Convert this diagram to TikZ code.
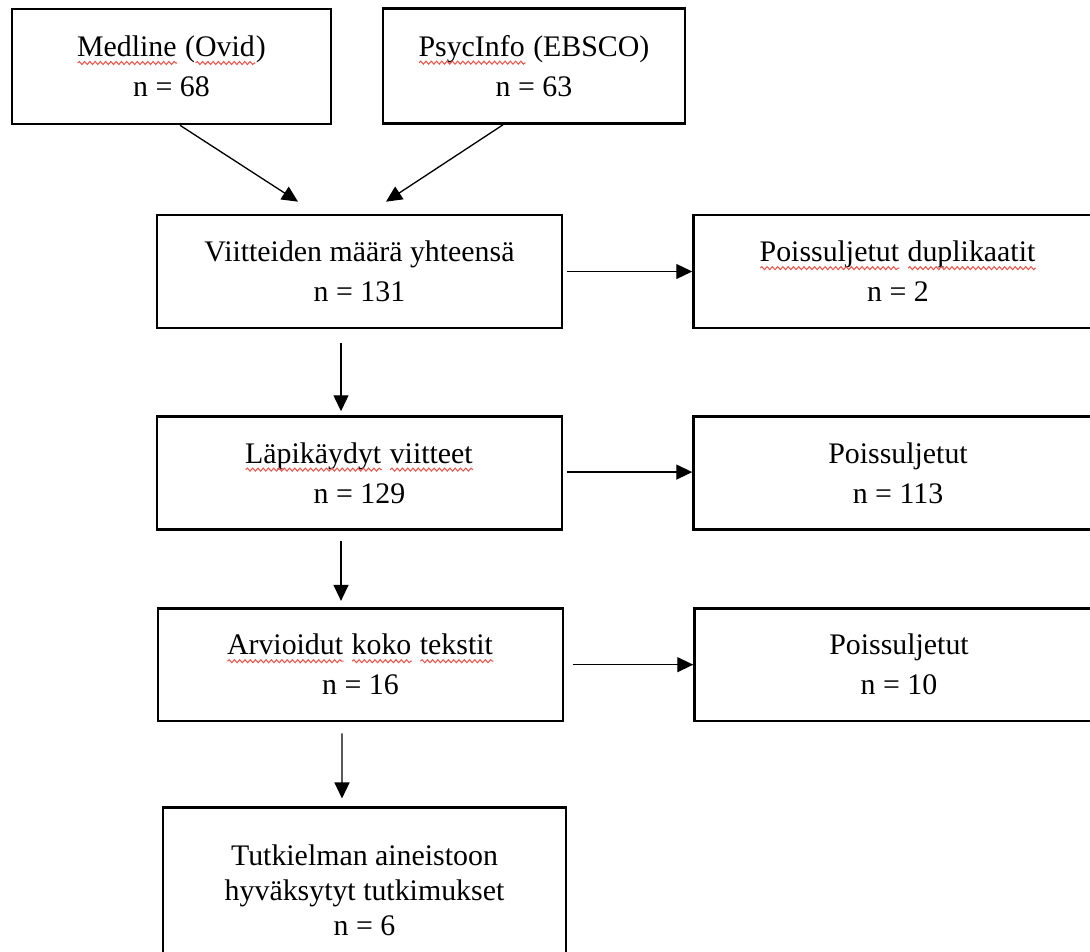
\documentclass[tikz,border=0pt]{standalone}
\usepackage{fontspec}
\setmainfont{Liberation Serif}
\usepackage{tikz}
\newcommand{\nodewidth}{8.1cm}
\newcommand{\nodeheight}{2.26cm}
\newcommand{\boxfont}{\fontsize{17}{22.8}\selectfont}
\newcommand{\tightfont}{\fontsize{17}{20}\selectfont}
\definecolor{squigRed}{RGB}{238,86,76}
\usetikzlibrary{arrows.meta,calc,decorations.pathmorphing,positioning}
\newsavebox{\squigbox}
\newlength{\squigwd}
\newcommand{\squig}[1]{\sbox{\squigbox}{#1}\setlength{\squigwd}{\wd\squigbox}\rlap{\usebox{\squigbox}}\tikz[baseline=0pt]\draw[squigRed,line width=0.6pt,decorate,decoration={snake,amplitude=0.85pt,segment length=3pt}] (0pt,-3.6pt) -- (\squigwd,-3.6pt);}
\tikzset{
  >={Triangle[length=0.32cm,width=0.3cm]},
  font=\boxfont,
  node distance=1.72cm and 2.58cm,
  rect/.style={draw,line width=1.5pt,shape=rectangle,minimum width=\nodewidth,minimum height=\nodeheight,inner sep=1mm,align=center},
  excl/.style={rect,minimum width=8.18cm},
  source/.style={rect,minimum height=2.3cm},
  line/.style={draw,->,line width=0.75pt},
}

\begin{document}
\begin{tikzpicture}[x=0.02cm,y=-0.02cm]
      \path [use as bounding box,clip] (0,0) rectangle (1090,952);
      \node (medline) [source,minimum width=6.38cm] at (171.5,66.5) {\squig{Medline} (\squig{Ovid})\\n = 68};
      \node (psyc) [source,minimum width=6.04cm] at (534,66) {\squig{PsycInfo} (EBSCO)\\n = 63};
      \node (total) [rect] at (359.5,271.5) {Viitteiden määrä yhteensä\\n = 131};
      \node (dupl) [excl,right=of total] {\squig{Poissuljetut} \squig{duplikaatit}\\n = 2};
      \node (screened) [rect,below=of total] {\squig{Läpikäydyt} \squig{viitteet}\\n = 129};
      \node (excl1) [excl,right=of screened] {Poissuljetut\\n = 113};
      \node (fulltext) [rect,below=1.52cm of screened,xshift=0.02cm] {\squig{Arvioidut} \squig{koko} \squig{tekstit}\\n = 16};
      \node (excl2) [excl,right=of fulltext] {Poissuljetut\\n = 10};
      \node (result) [rect,font=\tightfont,minimum width=8.06cm,minimum height=3.3cm,below=1.68cm of fulltext,xshift=0.08cm] {Tutkielman aineistoon\\hyväksytyt tutkimukset\\n = 6};
      \coordinate (m1) at ($(medline.south)+(8.5,0)$);
      \coordinate (t1) at ($(total.north)+(-61.5,-12)$);
      \coordinate (p1) at ($(psyc.south)+(-31,0)$);
      \coordinate (t2) at ($(total.north)+(26.5,-12)$);
      \coordinate (h1) at ($(total.east)+(4,0)$);
      \coordinate (h2) at ($(screened.east)+(4,-1)$);
      \coordinate (h3) at ($(fulltext.east)+(9,0)$);
      \coordinate (v1) at ($(total.south)+(-18.5,14)$);
      \coordinate (v1e) at ($(screened.north)+(-18.5,-4)$);
      \coordinate (v2) at ($(screened.south)+(-18.5,10)$);
      \coordinate (v2e) at ($(fulltext.north)+(-19.5,-6)$);
      \coordinate (v3) at ($(fulltext.south)+(-18.5,11)$);
      \coordinate (v3e) at ($(result.north)+(-22.5,-8)$);
      \path [line] (m1) -- (t1);
      \path [line] (p1) -- (t2);
      \path [line] (h1) -- (h1 -| dupl.west);
      \path [line] (h2) -- (h2 -| excl1.west);
      \path [line] (h3) -- (h3 -| excl2.west);
      \path [line] (v1) -- (v1e);
      \path [line] (v2) -- (v2e);
      \path [line] (v3) -- (v3e);
    \end{tikzpicture}
\end{document}
